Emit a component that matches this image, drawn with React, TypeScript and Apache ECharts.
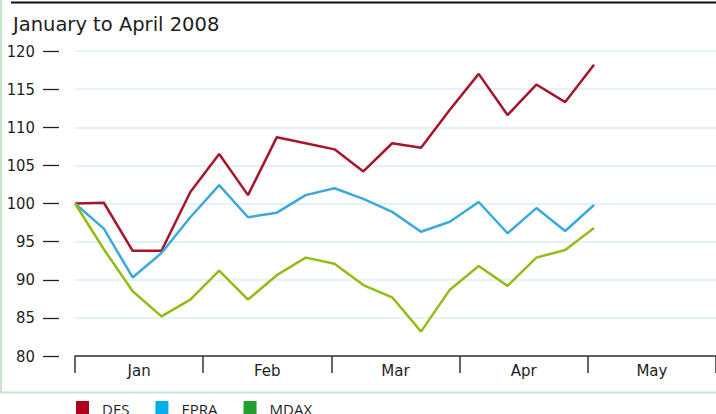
import React, { useEffect, useRef } from "react";
import * as echarts from "echarts";

const weeks = [
  "Jan 1", "Jan 8", "Jan 15", "Jan 22", "Jan 29", "Feb 5", "Feb 12", "Feb 19", "Feb 26",
  "Mar 4", "Mar 11", "Mar 18", "Mar 25", "Apr 1", "Apr 8", "Apr 15", "Apr 22", "Apr 29", "May 6",
];
const months = ["Jan", "Feb", "Mar", "Apr", "May"];
const yTicks = [80, 85, 90, 95, 100, 105, 110, 115, 120];

const desValues = [100.0, 100.1, 93.8, 93.8, 101.5, 106.5, 101.1, 108.7, 107.9, 107.1, 104.2, 107.9, 107.3, 112.3, 117.0, 111.6, 115.6, 113.3, 118.2];
const epraValues = [100.0, 96.7, 90.3, 93.5, 98.2, 102.4, 98.2, 98.8, 101.1, 102.0, 100.6, 98.9, 96.3, 97.6, 100.2, 96.1, 99.4, 96.4, 99.8];
const mdaxValues = [100.0, 94.0, 88.5, 85.2, 87.4, 91.2, 87.4, 90.6, 92.9, 92.1, 89.3, 87.7, 83.2, 88.7, 91.8, 89.2, 92.9, 93.9, 96.8];

const seriesNames = ["DES", "EPRA", "MDAX"];
const lineColors = ["#a8142b", "#3ca9dc", "#93bc16"];
const legendColors = ["#b0001e", "#00aee8", "#1fa030"];

export default function App() {
  const ref = useRef<HTMLDivElement>(null);
  useEffect(() => {
    if (!ref.current) return;
    const chart = echarts.init(ref.current, null, { renderer: "svg" });
    const all = [desValues, epraValues, mdaxValues];
    const tickFont = "'DejaVu Sans Condensed', 'Roboto', sans-serif";
    chart.setOption({
      animation: false,
      backgroundColor: "#ffffff",
      title: {
        text: "January to April 2008",
        left: 8,
        top: 9,
        textStyle: { fontFamily: "'DejaVu Sans', sans-serif", fontSize: 19.5, fontWeight: "normal", color: "#1e1e1e" },
      },
      legend: {
        left: 76,
        top: 401,
        padding: 0,
        itemWidth: 13,
        itemHeight: 16,
        itemGap: 26,
        icon: "rect",
        textStyle: { fontFamily: "'Open Sans', sans-serif", fontSize: 15, color: "#1e1e1e", padding: [0, 0, 0, 8] },
        data: seriesNames.map((n, i) => ({ name: n, itemStyle: { color: legendColors[i] } })),
      },
      graphic: [
        { type: "line", shape: { x1: 11, y1: 2.5, x2: 716, y2: 2.5 }, style: { stroke: "#111", lineWidth: 2 } },
        { type: "line", shape: { x1: 1, y1: 0, x2: 1, y2: 392.5 }, style: { stroke: "#c6e4c9", lineWidth: 2 } },
        { type: "line", shape: { x1: 0, y1: 392.5, x2: 716, y2: 392.5 }, style: { stroke: "#c6e4c9", lineWidth: 2 } },
      ],
      grid: { left: 75, right: 0, top: 51, bottom: 58, containLabel: false },
      xAxis: [
        { type: "value", min: 0, max: 22.23, show: false },
        {
          type: "category",
          data: months,
          position: "bottom",
          boundaryGap: true,
          axisLine: { show: true, lineStyle: { color: "#333", width: 1.5 } },
          axisTick: { show: true, length: 17, lineStyle: { color: "#333", width: 1.5 } },
          axisLabel: { fontFamily: "'DejaVu Sans', sans-serif", fontSize: 15, color: "#1e1e1e", margin: 7 },
          splitLine: { show: false },
        },
      ],
      yAxis: {
        type: "value",
        position: "left",
        min: yTicks[0],
        max: yTicks[yTicks.length - 1],
        interval: 5,
        offset: 16,
        axisLine: { show: false, onZero: false },
        axisTick: { show: true, length: 16, lineStyle: { color: "#222", width: 1.3 } },
        axisLabel: { fontFamily: tickFont, fontSize: 16.5, color: "#1e1e1e", margin: 24 },
        splitLine: { show: true, lineStyle: { color: "#deeef7", width: 1.5 } },
      },
      series: all.map((vals, i) => ({
        name: seriesNames[i],
        type: "line",
        xAxisIndex: 0,
        data: vals.map((v, j) => [j, v]),
        showSymbol: false,
        symbol: "none",
        lineStyle: { color: lineColors[i], width: 2.5 },
        itemStyle: { color: lineColors[i] },
      })),
    });
    return () => chart.dispose();
  }, []);
  return <div ref={ref} style={{ width: 716, height: 414, position: "fixed", left: 0, top: 0 }} />;
}
